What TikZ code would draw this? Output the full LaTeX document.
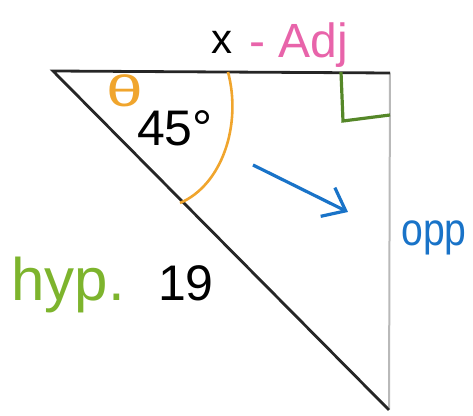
\documentclass[tikz,border=0pt]{standalone}
\usepackage{fontspec}
\setmainfont{Liberation Sans}
\usetikzlibrary{arrows.meta}

\definecolor{anglecol}{RGB}{240,165,45}
\definecolor{adjcol}{RGB}{232,100,170}
\definecolor{hypcol}{RGB}{125,180,45}
\definecolor{rightcol}{RGB}{85,135,40}
\definecolor{oppcol}{RGB}{25,115,200}

\tikzset{
  word/.style={
    inner sep=0pt,
    font=\fontsize{24}{24}\selectfont
  },
  side/.style={
    line width=1.4pt,
    black!85
  }
}

\begin{document}
\begin{tikzpicture}[x=0.5pt,y=-0.5pt]
  \useasboundingbox (0,0) rectangle (473,416);

  \coordinate (A) at (53,71);
  \coordinate (B) at (390,73);
  \coordinate (C) at (389,410);

  \draw[gray!55, line width=1pt] (B) -- (C);
  \draw[side] (C) -- (A) -- (B);

  \coordinate (arcTop) at (228,72);
  \coordinate (arcEnd) at (180,203);
  \draw[anglecol, line width=1.3pt] (arcTop) .. controls (242,125) and (222,185) .. (arcEnd);

  \coordinate (r1) at (341,72);
  \coordinate (r2) at (343,121);
  \coordinate (r3) at (390,115);
  \draw[rightcol, line width=1.6pt] (r1) -- (r2) -- (r3);

  \coordinate (arrS) at (253,165);
  \coordinate (arrE) at (348,212);
  \draw[oppcol, line width=1.6pt, -{Straight Barb[length=10pt,width=16pt]}] (arrS) -- (arrE);

  \node[word, font=\fontsize{21}{21}\selectfont] (x) at (222,42) {x};
  \node[word, text=adjcol, anchor=west] (adj) at (249,45) {- Adj};
  \node[word, text=anglecol, font=\fontsize{22}{22}\selectfont, xscale=1.5] (theta) at (125,91) {θ};
  \node[word, font=\fontsize{25}{25}\selectfont] (deg) at (175,128) {45°};
  \node[word, text=oppcol, font=\fontsize{23}{23}\selectfont, xscale=0.85] (opp) at (434,238) {opp};
  \node[word, text=hypcol, font=\fontsize{30}{30}\selectfont] (hyp) at (68,285) {hyp.};
  \node[word, font=\fontsize{25}{25}\selectfont] (len) at (186,283) {19};
\end{tikzpicture}
\end{document}
